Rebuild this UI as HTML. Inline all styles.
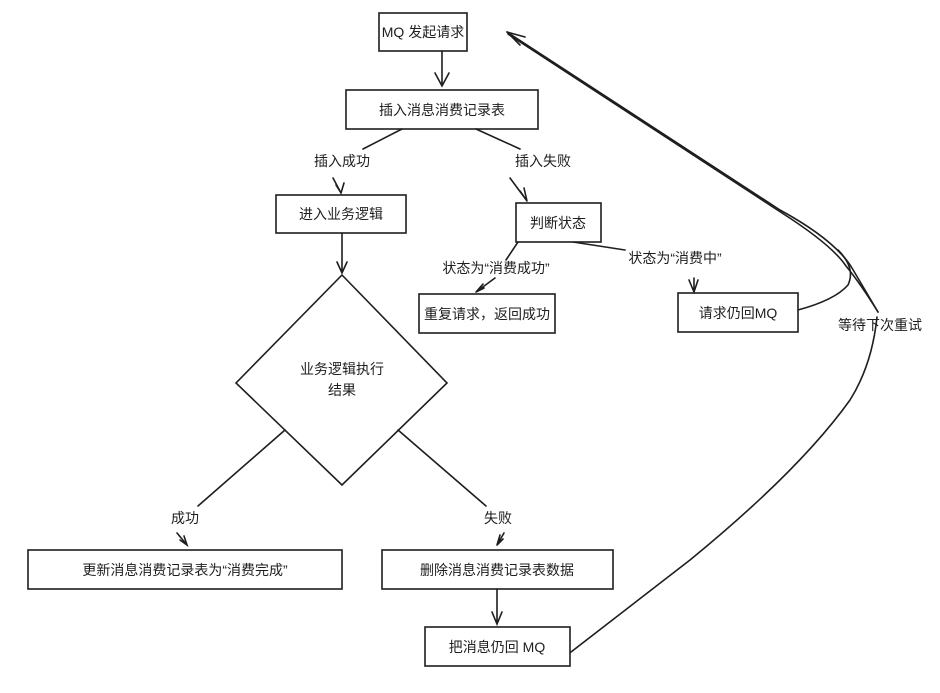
<!DOCTYPE html>
<html><head><meta charset="utf-8"><style>
html,body{margin:0;padding:0;background:#fff;}
svg text{font-family:"Liberation Sans","Noto Sans CJK SC",sans-serif;font-size:14px;fill:#1e1e1e;}
</style></head><body>
<svg width="940" height="688" viewBox="0 0 940 688" xmlns="http://www.w3.org/2000/svg">
<g fill="none" stroke="#1e1e1e" stroke-width="1.6" stroke-linecap="round">
<rect x="379" y="13" width="88" height="38"/>
<rect x="346" y="90" width="192" height="39"/>
<rect x="276" y="195" width="130" height="38"/>
<rect x="516" y="203" width="85" height="39"/>
<rect x="419" y="294" width="136" height="39"/>
<rect x="678" y="293" width="120" height="39"/>
<polygon points="342,275 447,383 342,485 236,383"/>
<rect x="28" y="550" width="314" height="39"/>
<rect x="382" y="550" width="231" height="39"/>
<rect x="425" y="627" width="145" height="39"/>
<!-- arrows -->
<path d="M442 51 L442 86 M435 73 L442 86 L449 73"/>
<path d="M402 129 L363 149"/>
<path d="M333 178 L341 193 M336 185 L341 193 L344 183"/>
<path d="M476 129 L520 149"/>
<path d="M510 178 L527 201 M520 191 L527 201 L524 188"/>
<path d="M342 233 L342 273 M337 262 L342 273 L347 262"/>
<path d="M518 242 L506 260"/>
<path d="M495 278 L476 292 M484 288 L476 292 L483 284"/>
<path d="M573 242 L625 250"/>
<path d="M694 278 L694 292 M689 280 L694 292 L698 280"/>
<path d="M285 430 L198 506"/>
<path d="M177 533 L187 545 M180 540 L187 545 L184 536"/>
<path d="M398 430 L486 506"/>
<path d="M504 533 L497 545 M500 535 L497 545 L503 539"/>
<path d="M497 589 L497 624 M492 612 L497 624 L502 612"/>
<path d="M571 652 L690 560 Q800 470 850 400 Q872 365 877 317"/>
<path d="M878 312 Q862 285 852 268 Q835 240 780 210 L507 32"/>
<path d="M878 312 Q860 283 846 266 Q832 245 782 213 L508 34"/>
<path d="M798 310 Q835 300 848 285 Q856 268 838 250"/>
<path d="M507 32 L520 45 M507 32 L525 37"/>
</g>
<text x="423" y="37" text-anchor="middle">MQ 发起请求</text>
<text x="442" y="115" text-anchor="middle">插入消息消费记录表</text>
<text x="341" y="219" text-anchor="middle">进入业务逻辑</text>
<text x="558" y="228" text-anchor="middle">判断状态</text>
<text x="487" y="319" text-anchor="middle">重复请求，返回成功</text>
<text x="738" y="318" text-anchor="middle">请求仍回MQ</text>
<text x="342" y="374" text-anchor="middle">业务逻辑执行</text>
<text x="342" y="395" text-anchor="middle">结果</text>
<text x="185" y="575" text-anchor="middle">更新消息消费记录表为“消费完成”</text>
<text x="497" y="575" text-anchor="middle">删除消息消费记录表数据</text>
<text x="497" y="652" text-anchor="middle">把消息仍回 MQ</text>
<text x="342" y="166" text-anchor="middle">插入成功</text>
<text x="543" y="166" text-anchor="middle">插入失败</text>
<text x="496" y="273" text-anchor="middle">状态为“消费成功”</text>
<text x="675" y="263" text-anchor="middle">状态为“消费中”</text>
<text x="185" y="523" text-anchor="middle">成功</text>
<text x="498" y="523" text-anchor="middle">失败</text>
<text x="880" y="330" text-anchor="middle">等待下次重试</text>
</svg>
</body></html>
